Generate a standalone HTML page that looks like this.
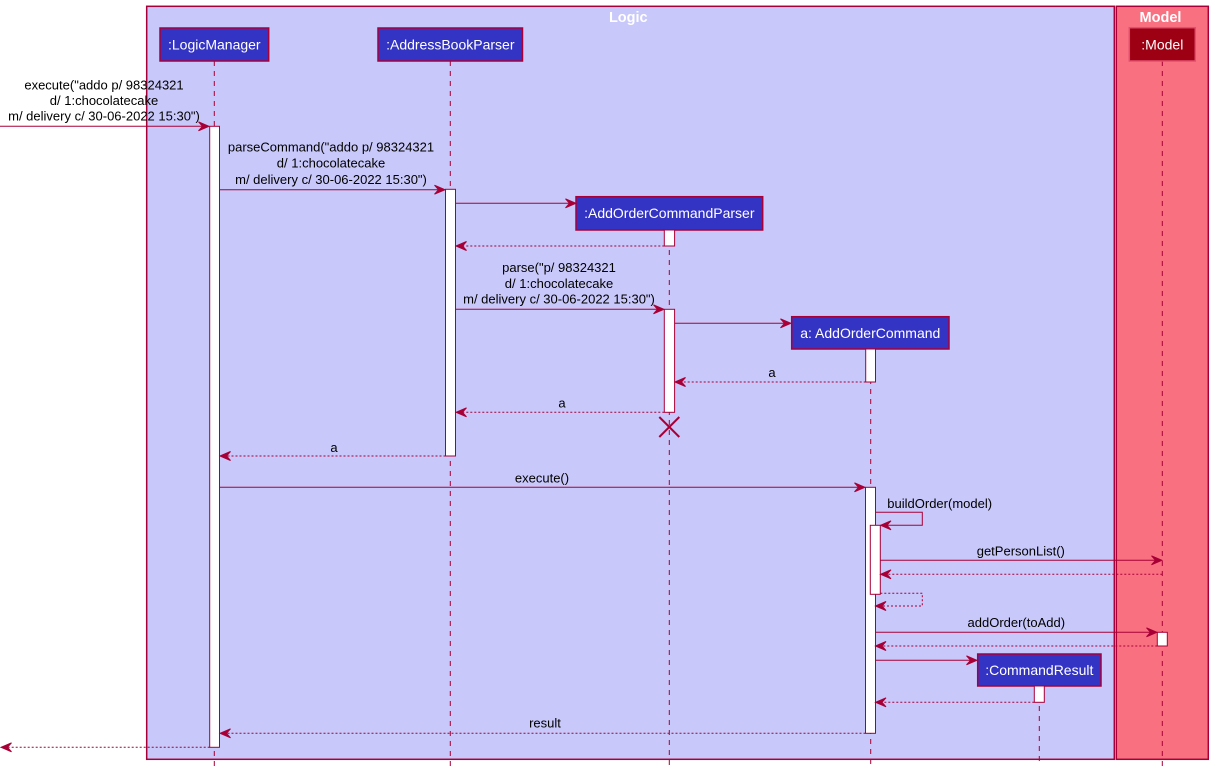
<!DOCTYPE html>
<html><head><meta charset="utf-8"><style>
html,body{margin:0;padding:0;background:#fff;}
svg{display:block;}
text{font-family:"Liberation Sans",Arial,sans-serif;}
</style></head><body>
<svg width="1213" height="771" viewBox="0 0 1213 771" xmlns="http://www.w3.org/2000/svg">
<!-- boxes -->
<rect x="146.7" y="6.3" width="967.6" height="753" fill="#C8C8FA" stroke="#A80036" stroke-width="1.5"/>
<rect x="1116.3" y="6.3" width="92" height="753" fill="#F97181" stroke="#A80036" stroke-width="1.5"/>
<text x="628.3" y="22" font-size="14.5" font-weight="bold" fill="#FFFFFF" text-anchor="middle">Logic</text>
<text x="1160.5" y="22" font-size="14.5" font-weight="bold" fill="#FFFFFF" text-anchor="middle">Model</text>

<!-- lifelines -->
<g stroke="#A80036" stroke-width="1" stroke-dasharray="5,5" fill="none">
<line x1="214.3" y1="61" x2="214.3" y2="766"/>
<line x1="450.3" y1="61" x2="450.3" y2="766"/>
<line x1="669.3" y1="230" x2="669.3" y2="766"/>
<line x1="870.7" y1="349" x2="870.7" y2="766"/>
<line x1="1039.3" y1="686" x2="1039.3" y2="766"/>
<line x1="1162.3" y1="61" x2="1162.3" y2="766"/>
</g>

<!-- participants -->
<g stroke="#A80036" stroke-width="1.5">
<rect x="160" y="28" width="108.7" height="33" fill="#3333C4"/>
<rect x="378" y="28" width="144.5" height="33" fill="#3333C4"/>
<rect x="576" y="196.7" width="186.7" height="33.3" fill="#3333C4"/>
<rect x="791.7" y="316.7" width="157.3" height="32.3" fill="#3333C4"/>
<rect x="977.7" y="654" width="123.3" height="32" fill="#3333C4"/>
<rect x="1129.3" y="27.7" width="66" height="33.3" fill="#9D0012" stroke="#E05070"/>
</g>
<g font-size="14" fill="#FFFFFF" text-anchor="middle">
<text x="214.3" y="49.5">:LogicManager</text>
<text x="450.3" y="49.5">:AddressBookParser</text>
<text x="669.3" y="218">:AddOrderCommandParser</text>
<text x="870.3" y="338">a: AddOrderCommand</text>
<text x="1039.3" y="675">:CommandResult</text>
<text x="1162.3" y="49.5">:Model</text>
</g>

<!-- activation bars -->
<g fill="#FFFFFF" stroke="#A80036" stroke-width="1">
<rect x="209.7" y="126.3" width="9.8" height="621"/>
<rect x="445.5" y="189.3" width="10" height="266.7"/>
<rect x="664.3" y="230" width="10.3" height="16"/>
<rect x="664.3" y="309.3" width="10.3" height="103"/>
<rect x="865.7" y="349" width="9.8" height="33"/>
<rect x="865.5" y="487.3" width="10" height="246"/>
<rect x="870.3" y="525.3" width="10" height="69"/>
<rect x="1157.3" y="632.3" width="10" height="13.7"/>
<rect x="1034.3" y="686" width="10" height="16.3"/>
</g>

<!-- destroy X -->
<g stroke="#A80036" stroke-width="2">
<line x1="659.3" y1="417" x2="679.3" y2="437"/>
<line x1="679.3" y1="417" x2="659.3" y2="437"/>
</g>

<!-- solid messages -->
<g stroke="#A80036" stroke-width="1" fill="none">
<line x1="0" y1="126.3" x2="205" y2="126.3"/>
<line x1="219.5" y1="189.7" x2="441" y2="189.7"/>
<line x1="455.5" y1="203.3" x2="572" y2="203.3"/>
<line x1="455.5" y1="309.3" x2="660" y2="309.3"/>
<line x1="674.6" y1="323.3" x2="787" y2="323.3"/>
<line x1="219.5" y1="487.3" x2="861" y2="487.3"/>
<polyline points="875.5,512.3 922.3,512.3 922.3,525.3 884,525.3"/>
<line x1="880.3" y1="560.3" x2="1158" y2="560.3"/>
<line x1="875.5" y1="632.3" x2="1153" y2="632.3"/>
<line x1="875.5" y1="660.3" x2="973" y2="660.3"/>
</g>

<!-- dashed returns -->
<g stroke="#A80036" stroke-width="1" fill="none" stroke-dasharray="2,2">
<line x1="664.3" y1="246" x2="460" y2="246"/>
<line x1="865.7" y1="382" x2="679" y2="382"/>
<line x1="664.3" y1="412.3" x2="460" y2="412.3"/>
<line x1="445.5" y1="456" x2="224" y2="456"/>
<line x1="1162.3" y1="574.3" x2="885" y2="574.3"/>
<polyline points="880.3,593.3 922.3,593.3 922.3,606 880,606"/>
<line x1="1157.3" y1="646" x2="880" y2="646"/>
<line x1="1034.3" y1="702.3" x2="880" y2="702.3"/>
<line x1="865.5" y1="733.3" x2="224" y2="733.3"/>
<line x1="209.7" y1="747.3" x2="5" y2="747.3"/>
</g>

<!-- arrowheads -->
<g fill="#A80036" stroke="#A80036" stroke-width="1">
<polygon points="209,126.3 198.5,121.8 202.5,126.3 198.5,130.8"/>
<polygon points="445,189.7 434.5,185.2 438.5,189.7 434.5,194.2"/>
<polygon points="576,203.3 565.5,198.8 569.5,203.3 565.5,207.8"/>
<polygon points="664,309.3 653.5,304.8 657.5,309.3 653.5,313.8"/>
<polygon points="791,323.3 780.5,318.8 784.5,323.3 780.5,327.8"/>
<polygon points="865,487.3 854.5,482.8 858.5,487.3 854.5,491.8"/>
<polygon points="1162,560.3 1151.5,555.8 1155.5,560.3 1151.5,564.8"/>
<polygon points="1157,632.3 1146.5,627.8 1150.5,632.3 1146.5,636.8"/>
<polygon points="977,660.3 966.5,655.8 970.5,660.3 966.5,664.8"/>
<polygon points="880.5,525.3 891,520.8 887,525.3 891,529.8"/>
<polygon points="456,246 466.5,241.5 462.5,246 466.5,250.5"/>
<polygon points="675,382 685.5,377.5 681.5,382 685.5,386.5"/>
<polygon points="456,412.3 466.5,407.8 462.5,412.3 466.5,416.8"/>
<polygon points="220,456 230.5,451.5 226.5,456 230.5,460.5"/>
<polygon points="880.5,574.3 891,569.8 887,574.3 891,578.8"/>
<polygon points="875.5,606 886,601.5 882,606 886,610.5"/>
<polygon points="875.5,646 886,641.5 882,646 886,650.5"/>
<polygon points="875.5,702.3 886,697.8 882,702.3 886,706.8"/>
<polygon points="220,733.3 230.5,728.8 226.5,733.3 230.5,737.8"/>
<polygon points="1,747.3 11.5,742.8 7.5,747.3 11.5,751.8"/>
</g>

<!-- message labels -->
<g font-size="13" fill="#000000" text-anchor="middle">
<text x="104" y="89.5">execute("addo p/ 98324321</text>
<text x="104" y="105">d/ 1:chocolatecake</text>
<text x="104" y="120.5">m/ delivery c/ 30-06-2022 15:30")</text>

<text x="331" y="151.5">parseCommand("addo p/ 98324321</text>
<text x="331" y="167.5">d/ 1:chocolatecake</text>
<text x="331" y="184">m/ delivery c/ 30-06-2022 15:30")</text>

<text x="559" y="272">parse("p/ 98324321</text>
<text x="559" y="288">d/ 1:chocolatecake</text>
<text x="559" y="303.5">m/ delivery c/ 30-06-2022 15:30")</text>

<text x="772" y="377">a</text>
<text x="562" y="407.5">a</text>
<text x="334" y="452">a</text>
<text x="542" y="482.5">execute()</text>
<text x="1020.8" y="555.5">getPersonList()</text>
<text x="1016.3" y="627">addOrder(toAdd)</text>
<text x="545" y="727.5">result</text>
</g>
<text x="887.3" y="508" font-size="13" fill="#000000">buildOrder(model)</text>
</svg>
</body></html>
